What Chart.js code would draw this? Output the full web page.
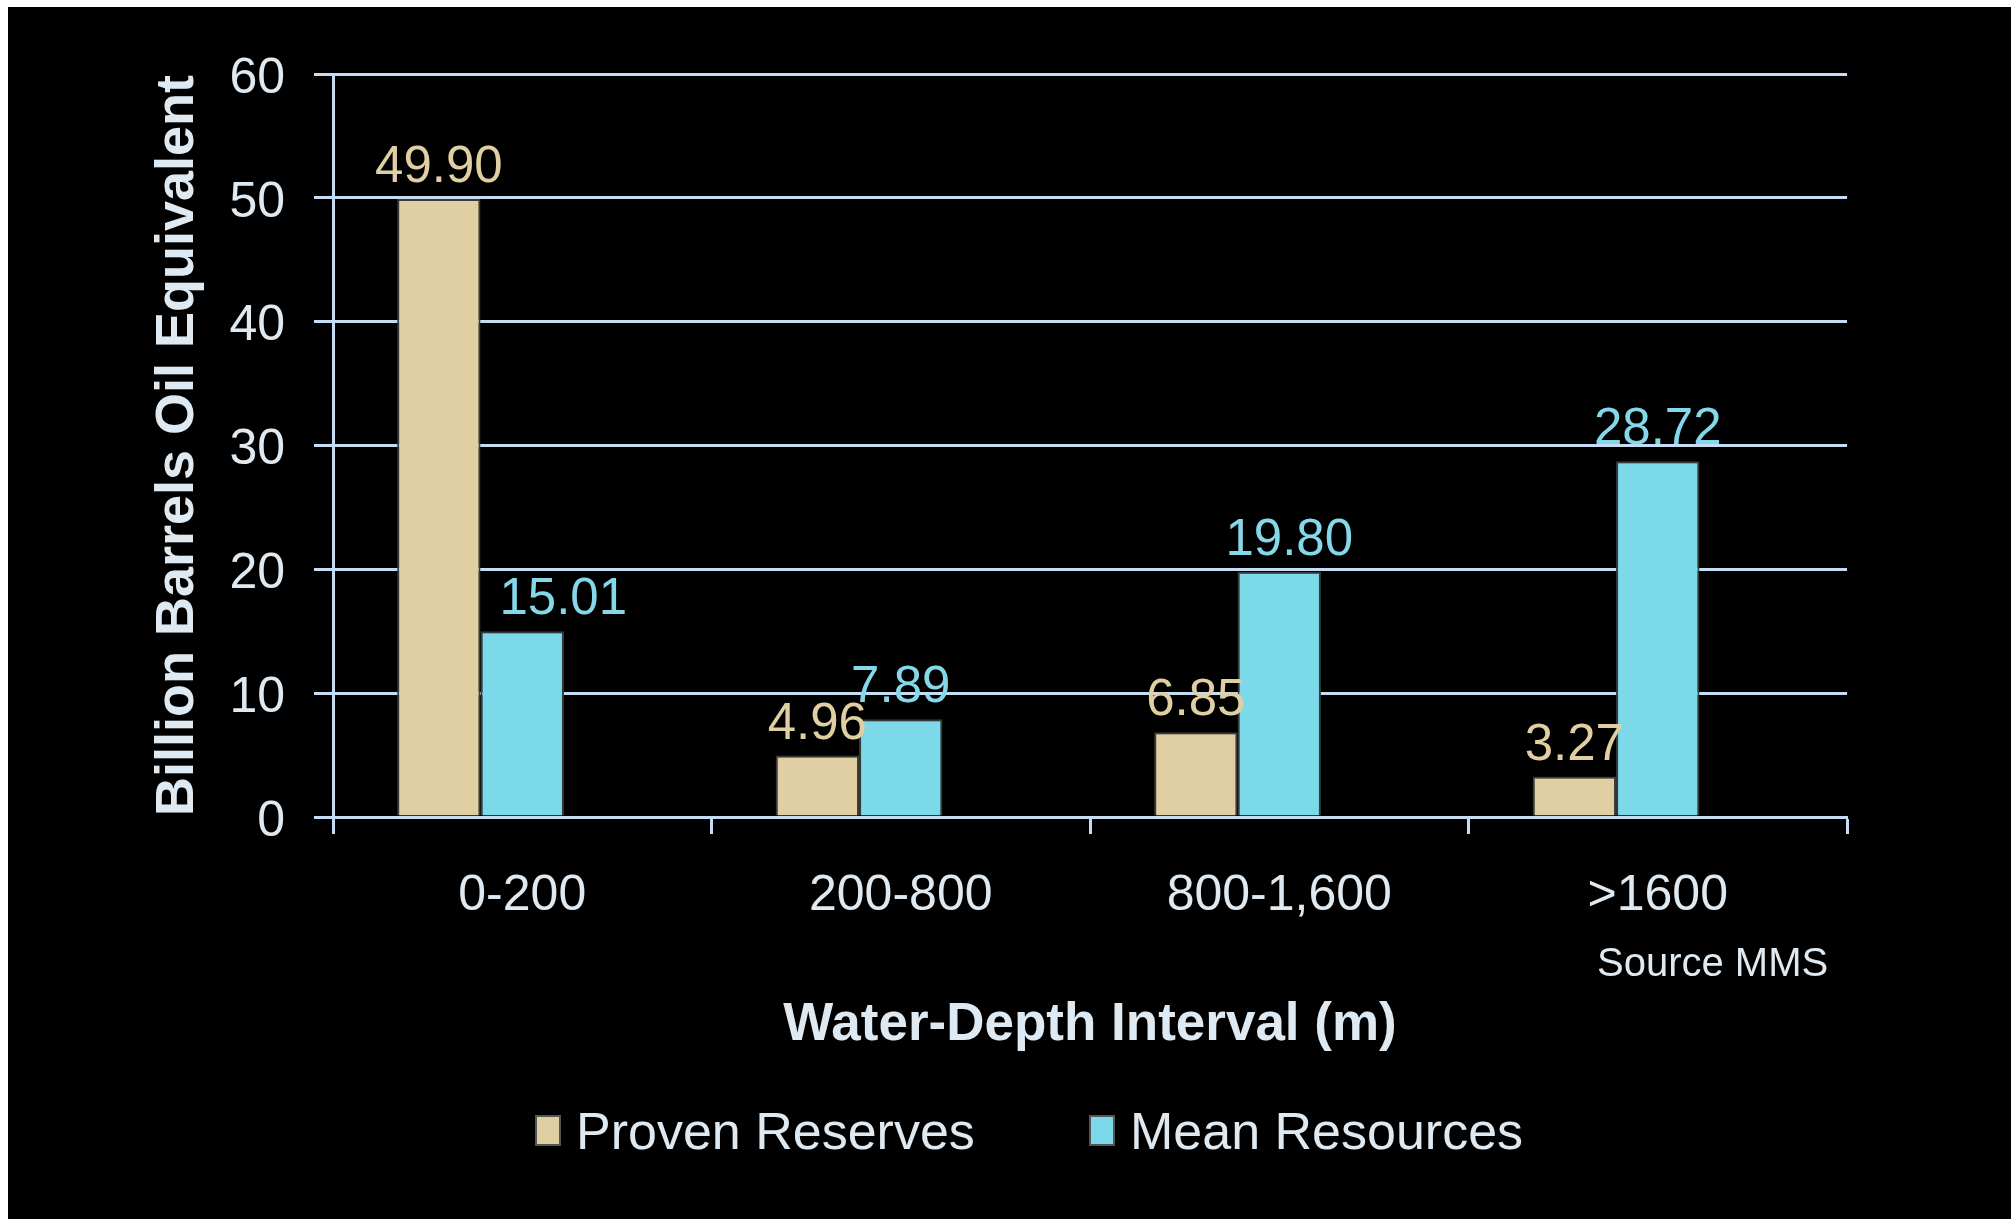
<!DOCTYPE html>
<html>
<head>
<meta charset="utf-8">
<script src="https://cdn.jsdelivr.net/npm/chart.js@4"></script>
<style>
  html, body { margin: 0; padding: 0; background: #fff; }
  #wrap { position: absolute; left: 8px; top: 7px; width: 2003px; height: 1212px; background: #000; }
</style>
</head>
<body>
<div id="wrap"><canvas id="reservesChart"></canvas></div>
<script>
const categories = ['0-200', '200-800', '800-1,600', '>1600'];
const provenReserves = [49.90, 4.96, 6.85, 3.27];
const meanResources = [15.01, 7.89, 19.80, 28.72];
const yTicks = [0, 10, 20, 30, 40, 50, 60];

const textColor = '#dfe9f1';
const gridColor = '#c5dcf3';
const tanColor = '#dfcfa2';
const cyanColor = '#7bd9ea';
const font = 'Liberation Sans, Arial, sans-serif';

// nhãn giá trị trên cột
const valueLabels = {
    id: 'valueLabels',
    afterDatasetsDraw(chart, args, opts) {
        const ctx = chart.ctx;
        ctx.save();
        ctx.font = '51px ' + font;
        ctx.textAlign = 'center';
        ctx.textBaseline = 'alphabetic';
        [0, 1].forEach(di => {
            const meta = chart.getDatasetMeta(di);
            const ds = chart.data.datasets[di];
            ctx.fillStyle = opts.colors[di];
            meta.data.forEach((bar, i) => {
                const dx = (opts.shift[di] || [])[i] || 0;
                ctx.fillText(ds.data[i].toFixed(2), bar.x + dx, bar.y - 17);
            });
        });
        ctx.restore();
    }
};

// chú thích + nguồn
const extras = {
    id: 'extras',
    afterDraw(chart) {
        const ctx = chart.ctx;
        ctx.save();
        ctx.fillStyle = textColor;
        ctx.font = '40px ' + font;
        ctx.textAlign = 'left';
        ctx.textBaseline = 'middle';
        ctx.fillText('Source MMS', 1589, 958);

        const items = [
            {x: 528, text: chart.data.datasets[0].label, color: tanColor},
            {x: 1082, text: chart.data.datasets[1].label, color: cyanColor}
        ];
        ctx.font = '52px ' + font;
        items.forEach(it => {
            ctx.fillStyle = it.color;
            ctx.fillRect(it.x, 1109, 24, 29);
            ctx.strokeStyle = '#555';
            ctx.lineWidth = 2;
            ctx.strokeRect(it.x, 1109, 24, 29);
            ctx.fillStyle = textColor;
            ctx.fillText(it.text, it.x + 40, 1128);
        });
        ctx.restore();
    }
};

new Chart(document.getElementById('reservesChart'), {
    type: 'bar',
    data: {
        labels: categories,
        datasets: [
            {label: 'Proven Reserves', data: provenReserves, backgroundColor: tanColor, borderColor: '#3a3a3a', borderWidth: 2},
            {label: 'Mean Resources', data: meanResources, backgroundColor: cyanColor, borderColor: '#3a3a3a', borderWidth: 2},
            {label: '', data: categories.map(() => null)}
        ]
    },
    options: {
        responsive: true,
        maintainAspectRatio: false,
        animation: false,
        categoryPercentage: 0.661,
        barPercentage: 1,
        layout: {padding: {top: 67, right: 164, bottom: 0, left: 0}},
        scales: {
            x: {
                afterFit: s => { s.height = 402; },
                grid: {drawOnChartArea: false, drawTicks: true, tickLength: 17, tickWidth: 3, tickColor: gridColor},
                border: {color: gridColor, width: 3},
                ticks: {color: textColor, font: {family: font, size: 50}, padding: 32},
                title: {display: true, text: 'Water-Depth Interval (m)', color: textColor,
                        font: {family: font, size: 53, weight: 'bold'}, padding: {top: 0, bottom: 162}}
            },
            y: {
                min: 0, max: 60,
                afterFit: s => { s.width = 325; },
                afterBuildTicks: s => { s.ticks = yTicks.map(v => ({value: v})); },
                grid: {color: gridColor, lineWidth: 3, tickLength: 19},
                border: {color: gridColor, width: 3},
                ticks: {color: textColor, font: {family: font, size: 50}, padding: 29, labelOffset: 5},
                title: {display: true, text: 'Billion Barrels Oil Equivalent', color: textColor,
                        font: {family: font, size: 54, weight: 'bold'}, padding: {top: 138, bottom: 0}}
            }
        },
        plugins: {
            legend: {display: false},
            tooltip: {enabled: false},
            valueLabels: {colors: [tanColor, '#85d8ea'], shift: [[0, 0, 0, 0], [41, 0, 10, 0]]}
        }
    },
    plugins: [valueLabels, extras]
});
</script>
</body>
</html>
